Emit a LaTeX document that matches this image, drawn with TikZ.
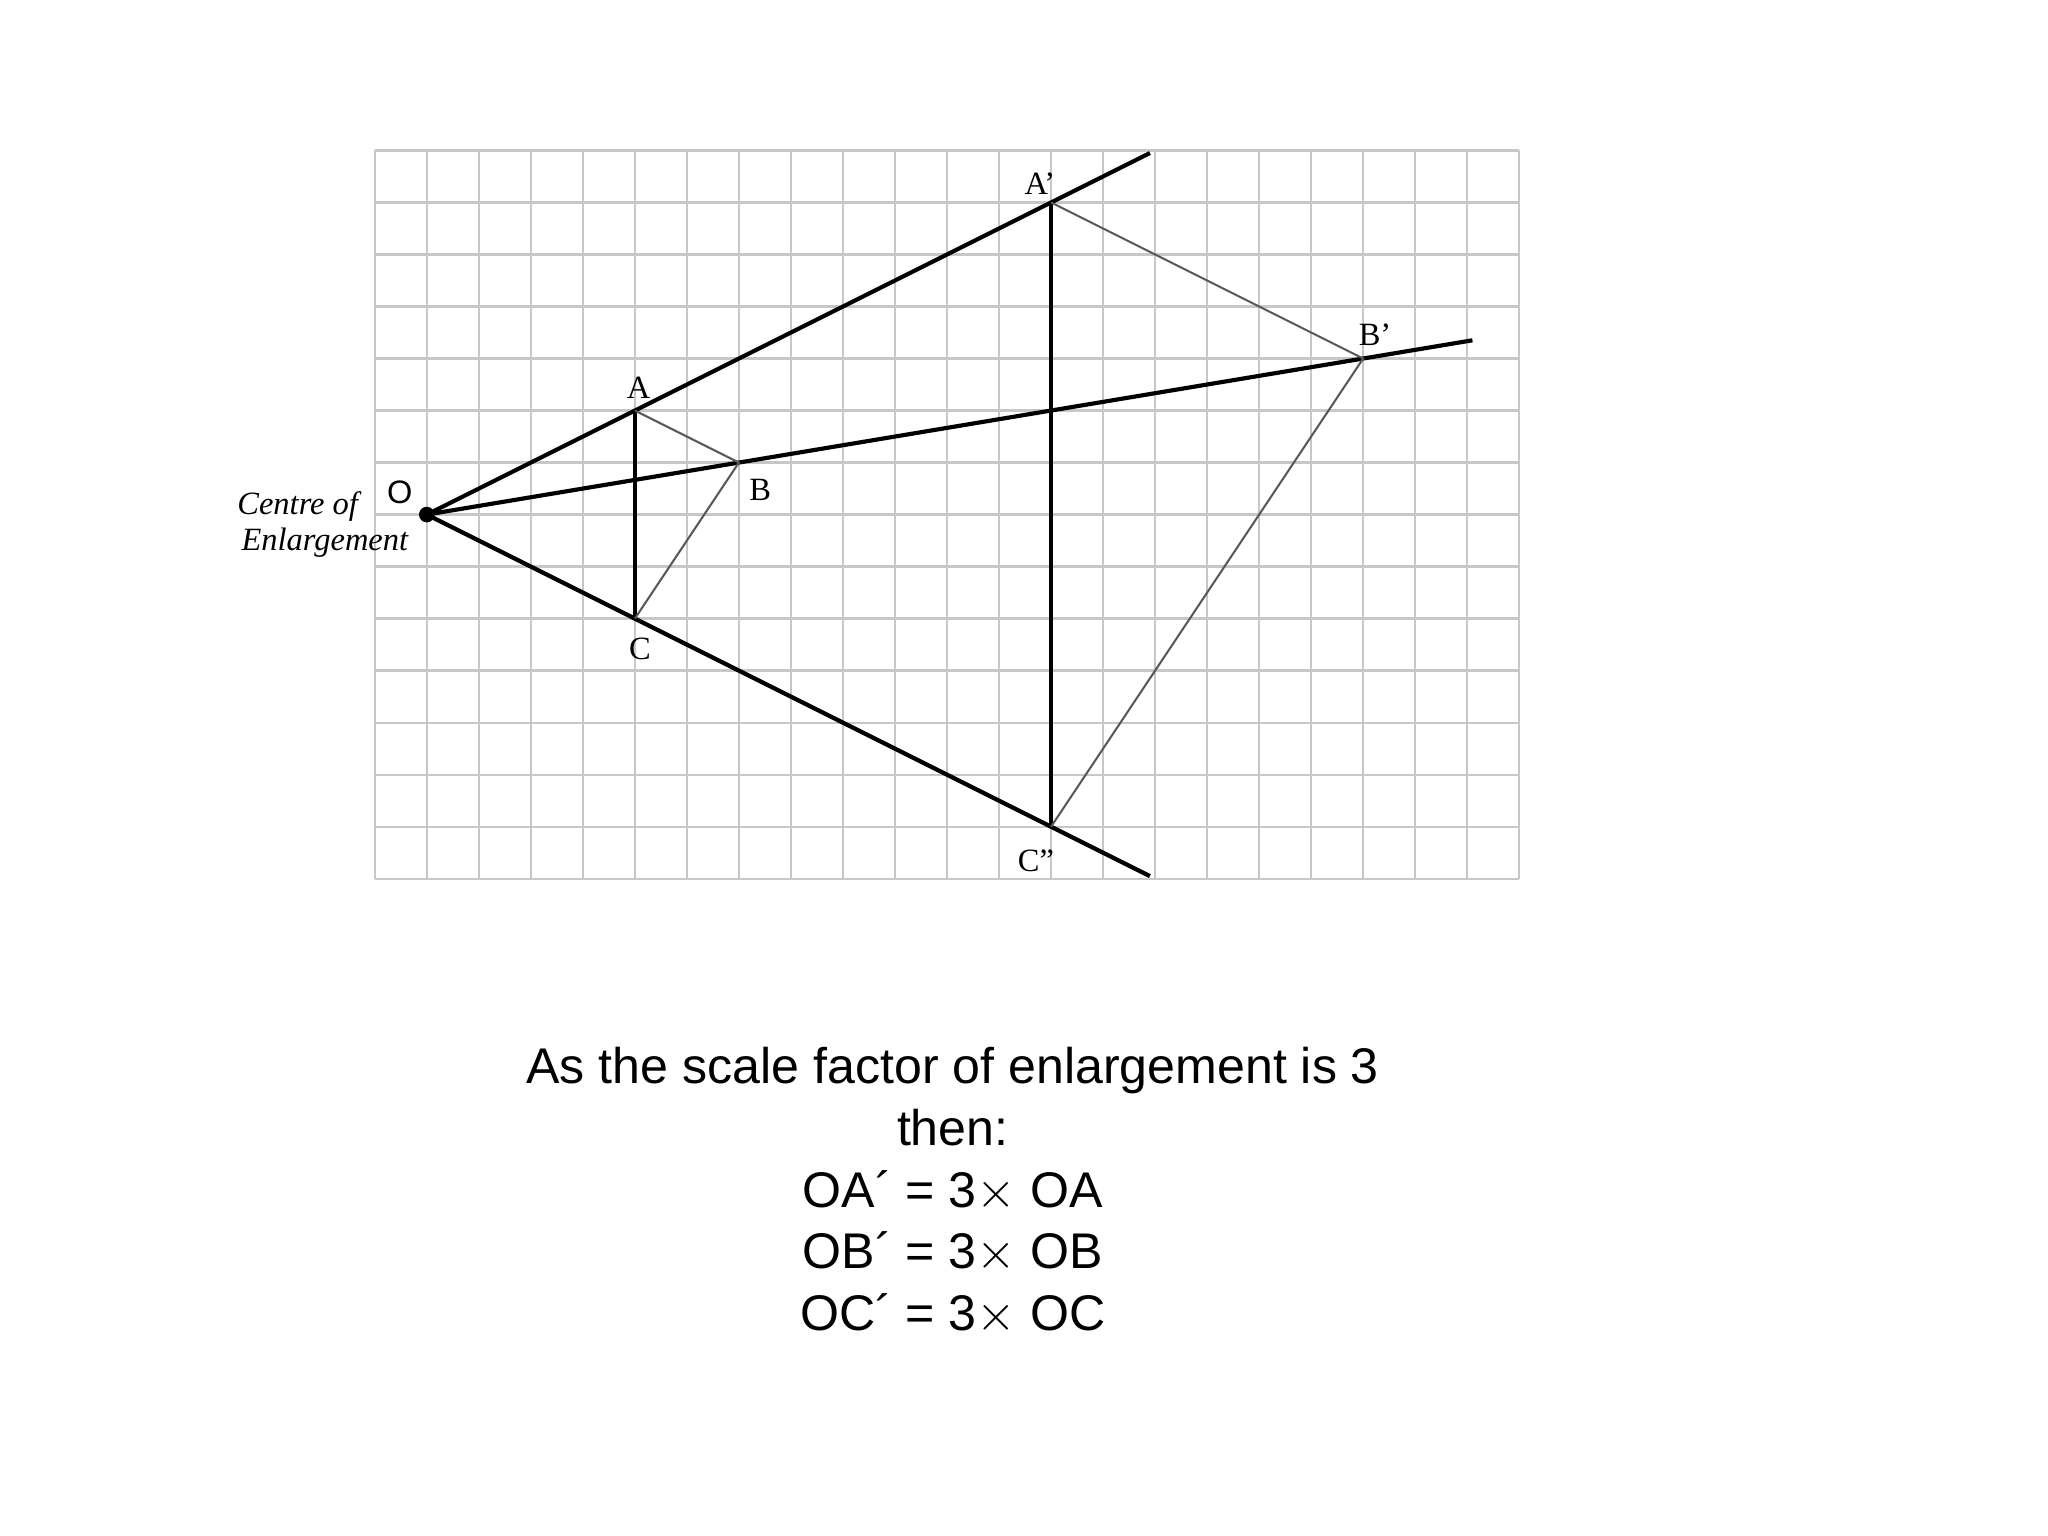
\documentclass[tikz,border=0pt]{standalone}
\usepackage{fontspec}
\setmainfont{Liberation Serif}
\newfontfamily\arialf{Liberation Sans}
\begin{document}
\begin{tikzpicture}[x=0.01cm,y=-0.01cm,
  gridl/.style={draw=black!22,line width=0.5pt},
  ray/.style={line width=0.9pt,black},
  thin/.style={line width=0.45pt,black!65},
  lab/.style={font=\fontsize{7}{8}\selectfont,inner sep=0pt}]
\useasboundingbox (0,0) rectangle (1552,1164);
\begin{scope}[shift={(284,114)},x=0.394cm,y=-0.394cm]
\foreach \i in {0,...,22} \draw[gridl] (\i,0) -- (\i,14);
\foreach \j in {0,...,14} \draw[gridl] (0,\j) -- (22,\j);
\coordinate (O) at (1,7);
\coordinate (A) at (5,5); \coordinate (B) at (7,6); \coordinate (C) at (5,9);
\coordinate (A2) at (13,1); \coordinate (B2) at (19,4); \coordinate (C2) at (13,13);
\coordinate (EA) at (14.9,0.05); \coordinate (EB) at (21.1,3.65); \coordinate (EC) at (14.9,13.95);
\draw[ray] (O) -- (EA); \draw[ray] (O) -- (EB); \draw[ray] (O) -- (EC);
\draw[ray] (A) -- (C); \draw[ray] (A2) -- (C2);
\draw[thin] (A) -- (B) -- (C); \draw[thin] (A2) -- (B2) -- (C2);
\fill (O) circle (0.15);
\end{scope}
\node[lab] (la) at (484,294) {A};
\node[lab] (lb) at (576,371) {B};
\node[lab] (lc) at (485,492) {C};
\node[lab] (la2) at (788,139) {A'};
\node[lab] (lb2) at (1042,254) {B'};
\node[lab] (lc2) at (785,652) {C''};
\node[inner sep=0pt,font=\arialf\fontsize{7}{8}\selectfont] (lo) at (303,373) {O};
\node[anchor=east,inner sep=0pt,font=\itshape\fontsize{7}{7}\selectfont] (ce1) at (272,384) {Centre of};
\node[anchor=east,inner sep=0pt,font=\itshape\fontsize{7}{7}\selectfont] (ce2) at (310,411) {Enlargement};
\node[align=center,inner sep=0pt,font=\arialf\fontsize{10.8}{13.3}\selectfont,anchor=north] (t) at (722,793)
 {As the scale factor of enlargement is 3\\then:\\OA´ = 3$\times$ OA\\OB´ = 3$\times$ OB\\OC´ = 3$\times$ OC};
\end{tikzpicture}
\end{document}
